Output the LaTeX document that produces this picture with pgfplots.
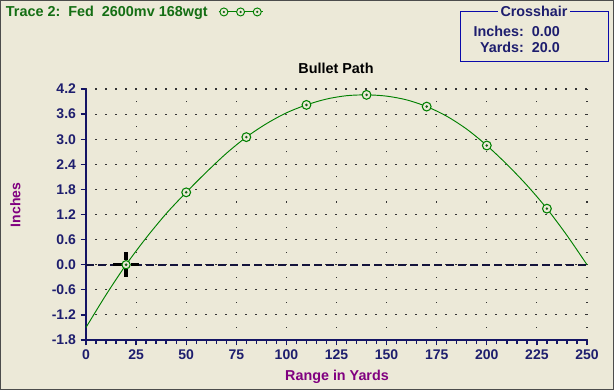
\documentclass[border=0pt]{standalone}
\usepackage{fontspec}
\setmainfont{Liberation Sans}
\usepackage{pgfplots}
\pgfplotsset{compat=1.18}
\definecolor{bg}{RGB}{236,233,216}
\definecolor{navy}{RGB}{20,20,100}
\definecolor{ticknavy}{RGB}{30,30,110}
\definecolor{purp}{RGB}{128,0,128}
\definecolor{tgreen}{RGB}{20,110,20}
\definecolor{cgreen}{RGB}{0,128,0}
\definecolor{boxblue}{RGB}{10,10,170}
\definecolor{dgreen}{RGB}{20,100,20}
\definecolor{dashc}{RGB}{20,20,60}

\pgfdeclareplotmark{dotcirc}{%
  \pgfpathcircle{\pgfpointorigin}{\pgfplotmarksize}%
  \pgfusepathqfillstroke
  \begin{pgfscope}%
  \pgfsetfillcolor{dgreen}%
  \pgfpathcircle{\pgfpointorigin}{0.32\pgfplotmarksize}%
  \pgfusepathqfill
  \end{pgfscope}%
}
\pgfdeclareplotmark{xhair}{%
  \begin{pgfscope}%
  \pgfsetbuttcap
  \pgfsetlinewidth{2.4pt}%
  \pgfsetstrokecolor{black}%
  \pgfpathmoveto{\pgfqpoint{0pt}{3.4pt}}\pgfpathlineto{\pgfqpoint{0pt}{9.5pt}}%
  \pgfpathmoveto{\pgfqpoint{0pt}{-3.4pt}}\pgfpathlineto{\pgfqpoint{0pt}{-9.5pt}}%
  \pgfpathmoveto{\pgfqpoint{-3.4pt}{0pt}}\pgfpathlineto{\pgfqpoint{-9.5pt}{0pt}}%
  \pgfpathmoveto{\pgfqpoint{3.4pt}{0pt}}\pgfpathlineto{\pgfqpoint{9.5pt}{0pt}}%
  \pgfusepathqstroke
  \pgfsetstrokecolor{cgreen}%
  \pgfsetfillcolor{bg}%
  \pgfsetlinewidth{0.8pt}%
  \pgfpathcircle{\pgfpointorigin}{3.1pt}%
  \pgfusepathqfillstroke
  \pgfsetfillcolor{dgreen}%
  \pgfpathcircle{\pgfpointorigin}{1.1pt}%
  \pgfusepathqfill
  \end{pgfscope}%
}

\begin{document}
\begin{tikzpicture}[x=1pt,y=1pt]
\useasboundingbox (0,0) rectangle (460.5,292.5);
\fill[bg] (0,0) rectangle (460.5,292.5);
\begin{axis}[
  at={(64.5pt,37.5pt)}, anchor=south west,
  scale only axis, width=375.75pt, height=188.25pt,
  xmin=0, xmax=250, ymin=-1.8, ymax=4.2,
  axis lines=left,
  axis line style={-, navy, line width=2.2pt},
  xtick={0,25,50,75,100,125,150,175,200,225,250},
  xticklabels={0,25,50,75,100,125,150,175,200,225,250},
  ytick={-1.8,-1.2,-0.6,0,0.6,1.2,1.8,2.4,3.0,3.6,4.2},
  yticklabels={-1.8,-1.2,-0.6,0.0,0.6,1.2,1.8,2.4,3.0,3.6,4.2},
  minor x tick num=4,
  tick align=outside,
  major tick length=4pt, minor tick length=3pt,
  every tick/.style={navy, line width=1pt},
  tick label style={font=\bfseries\fontsize{10.5}{12}\selectfont, text=ticknavy},
  xticklabel style={yshift=0.5pt},
  yticklabel style={xshift=0pt},
  xmajorgrids, ymajorgrids,
  x grid style={black!80, line width=0.8pt, dash pattern=on 0.8pt off 8.61pt, dash phase=0.4pt},
  y grid style={black!80, line width=0.8pt, dash pattern=on 0.8pt off 6.7pt, dash phase=0.4pt},
  xlabel={Range in Yards},
  xlabel style={at={(axis description cs:0.501,-0.148)}, anchor=center, font=\bfseries\fontsize{10.75}{12}\selectfont, text=purp},
  ylabel={Inches},
  ylabel style={at={(axis description cs:-0.141,0.538)}, anchor=center, font=\bfseries\fontsize{10.5}{12}\selectfont, text=purp},
  title={Bullet Path},
  title style={at={(axis description cs:0.499,1.052)}, anchor=center, font=\bfseries\fontsize{10.8}{12}\selectfont},
  legend plot pos=right,
  legend style={at={(axis description cs:-0.163,1.307)}, anchor=west, draw=none, fill=none,
    inner sep=0pt, font=\bfseries\fontsize{10.8}{12}\selectfont, text=tgreen,
    nodes={inner sep=1pt}},
  clip=false,
]
\addplot[dashc, line width=1.4pt, dash pattern=on 6pt off 3pt, forget plot] coordinates {(0,0) (250,0)};
\addplot[cgreen, line width=0.7pt, smooth, forget plot] coordinates {
(0,-1.50) (10,-0.72) (20,0.00) (30,0.64) (40,1.22) (50,1.73) (60,2.21) (70,2.66)
(80,3.05) (90,3.37) (100,3.63) (110,3.82) (120,3.96) (130,4.04) (140,4.06)
(150,4.03) (160,3.94) (170,3.78) (180,3.55) (190,3.24) (200,2.85) (210,2.40)
(220,1.90) (230,1.34) (240,0.70) (250,0.00)};
\addplot[only marks, mark=dotcirc, mark size=3.3pt, mark options={draw=cgreen, fill=bg, line width=0.8pt},
  legend image code/.code={%
    \path (-3pt,0pt);
    \draw[cgreen, line width=0.7pt] (4pt,0pt) -- (37pt,0pt);
    \draw[cgreen] plot[mark=dotcirc, mark size=3pt, mark options={draw=cgreen, fill=bg, line width=0.7pt}] coordinates {(8pt,0pt) (20.5pt,0pt) (33pt,0pt)};
  }] coordinates {
(50,1.73) (80,3.05) (110,3.82) (140,4.06) (170,3.78) (200,2.85) (230,1.34)};
\addlegendentry{Trace 2:\ \ Fed\ \ 2600mv 168wgt}
\addplot[only marks, mark=xhair, forget plot] coordinates {(20,0)};
\end{axis}
% crosshair readout box
\draw[boxblue, line width=0.75pt] (345,246) rectangle (456,283.5);
\node[fill=bg, inner sep=2pt, font=\bfseries\fontsize{10.75}{12}\selectfont, text=ticknavy] at (400.5,284) {Crosshair};
\node[anchor=east, inner sep=0pt, font=\bfseries\fontsize{10.75}{12}\selectfont, text=ticknavy] at (420,269.25) {Inches:\ \ 0.00};
\node[anchor=east, inner sep=0pt, font=\bfseries\fontsize{10.75}{12}\selectfont, text=ticknavy] at (420,257.25) {Yards:\ \ 20.0};
\draw[black!70, line width=0.75pt] (0.375,0.375) rectangle (460.125,292.125);
\end{tikzpicture}
\end{document}
